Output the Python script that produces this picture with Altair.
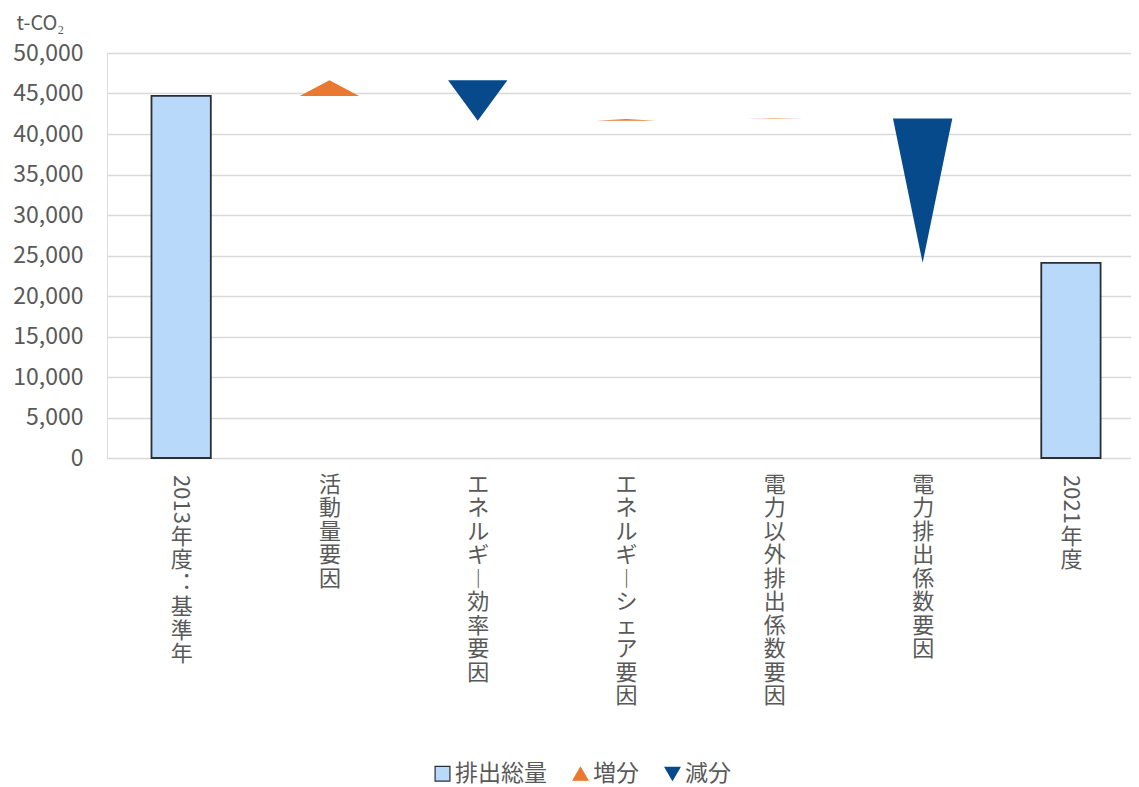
import json
import altair as alt
import pandas as pd

# ---- data ----
categories = ["2013年度：基準年", "活動量要因", "エネルギー効率要因", "エネルギーシェア要因",
              "電力以外排出係数要因", "電力排出係数要因", "2021年度"]
kinds = ["排出総量", "増分", "減分", "増分", "増分", "減分", "排出総量"]
total_2013 = 44700
changes = [1950, -5000, 200, 50, -17800]
total_2021 = 24100
legend_items = ["排出総量", "増分", "減分"]

# label pieces for vertical (tategaki) labels
label_digits = ["2013", "", "", "", "", "", "2021"]
label_rest = ["年度︓基準年", "活動量要因", "エネルギ︱効率要因", "エネルギ︱シェア要因",
              "電力以外排出係数要因", "電力排出係数要因", "年度"]

FONT = "Noto Sans CJK JP"
GREY = "#595959"
BAR_FILL = "#b9d9fb"
ORANGE = "#e97830"
BLUE = "#064a8c"

starts, ends = [0], [total_2013]
run = total_2013
for c in changes:
    starts.append(run)
    run += c
    ends.append(run)
starts.append(0)
ends.append(total_2021)

df = pd.DataFrame({
    "idx": list(range(len(categories))),
    "category": categories,
    "kind": kinds,
    "start": starts,
    "end": ends,
    "digits": label_digits,
})

label_lines = [list(r) for r in label_rest]
label_expr = json.dumps(label_lines, ensure_ascii=False) + "[datum.value]"
digit_idx = [i for i, d in enumerate(label_digits) if d]
digit_test = " || ".join(f"datum.value == {i}" for i in digit_idx)

xscale = alt.Scale(domain=[-0.5, 6.405], nice=False, zero=False)
yscale = alt.Scale(domain=[0, 50000], nice=False)

xaxis = alt.Axis(values=list(range(len(categories))), labelExpr=label_expr, title=None,
                 grid=False, ticks=False, domain=False, labelAngle=0, labelAlign="center",
                 labelBaseline="top",
                 labelPadding={"condition": {"test": digit_test, "value": 68}, "value": 16},
                 labelFontSize=22, labelColor=GREY,
                 labelFont=FONT, labelLineHeight=23.5, labelOverlap=False, labelLimit=400,
                 labelBound=False, labelFlush=False)
yaxis = alt.Axis(values=list(range(0, 50001, 5000)), format=",d", labelFontSize=23,
                 labelColor=GREY, labelFont=FONT, labelPadding=24, ticks=False, domain=False,
                 gridColor="#d9d9d9", gridWidth=1.3, title="t-CO₂", titleAngle=0,
                 titleAlign="left", titleBaseline="alphabetic", titleX=-91, titleY=-24,
                 titleFontSize=20, titleFontWeight="normal", titleColor=GREY, titleFont=FONT)

base = alt.Chart(df)

bars = base.transform_filter(alt.datum.kind == "排出総量").transform_calculate(
    x1="datum.idx - 0.2", x2="datum.idx + 0.2"
).mark_bar(fill=BAR_FILL, stroke="#2b2f33", strokeWidth=1.8).encode(
    x=alt.X("x1:Q", scale=xscale, axis=xaxis),
    x2="x2:Q",
    y=alt.Y("end:Q", scale=yscale, axis=yaxis),
    y2="start:Q",
)

tris = base.transform_filter(alt.datum.kind != "排出総量").transform_calculate(
    off="[-0.2, 0, 0.2]"
).transform_flatten(["off"]).transform_calculate(
    xx="datum.idx + datum.off",
    top="datum.off == 0 ? datum.end : datum.start",
).mark_area(opacity=1).encode(
    x=alt.X("xx:Q", scale=xscale),
    y=alt.Y("top:Q", scale=yscale),
    y2="start:Q",
    detail="idx:N",
    color=alt.Color("kind:N", scale=alt.Scale(domain=["増分", "減分"], range=[ORANGE, BLUE]),
                    legend=None),
)

digits = base.transform_filter(alt.datum.digits != "").mark_text(
    angle=90, align="left", baseline="middle", fontSize=22, color=GREY, font=FONT
).encode(
    x=alt.X("idx:Q", scale=xscale),
    y=alt.value(422),
    text="digits:N",
)

leg = alt.Legend(orient="none", legendX=324, legendY=709, direction="horizontal", title=None,
                 labelFontSize=23, labelColor=GREY, labelFont=FONT, symbolSize=220,
                 columnPadding=22, labelOffset=1, symbolStrokeWidth=1.2, symbolOpacity=1)
points = base.transform_filter("false").mark_point(filled=True, size=220, strokeWidth=1.2,
                                                   opacity=1).encode(
    x=alt.X("idx:Q", scale=xscale),
    y=alt.Y("end:Q", scale=yscale),
    fill=alt.Fill("kind:N", scale=alt.Scale(domain=legend_items, range=[BAR_FILL, ORANGE, BLUE]),
                  legend=leg, title=None),
    stroke=alt.Stroke("kind:N", scale=alt.Scale(domain=legend_items, range=["#2b2f33", ORANGE, BLUE]),
                      legend=leg, title=None),
    shape=alt.Shape("kind:N", scale=alt.Scale(domain=legend_items,
                                               range=["square", "triangle-up", "triangle-down"]),
                    legend=leg, title=None),
)

chart = alt.layer(bars, tris, digits, points).properties(
    width=1024, height=405,
    padding={"left": 99, "top": 45, "right": 0, "bottom": 345},
    autosize="none",
).configure_view(stroke=None).configure(font=FONT)

chart.save("out.html", embed_options={"renderer": "svg", "actions": False})
